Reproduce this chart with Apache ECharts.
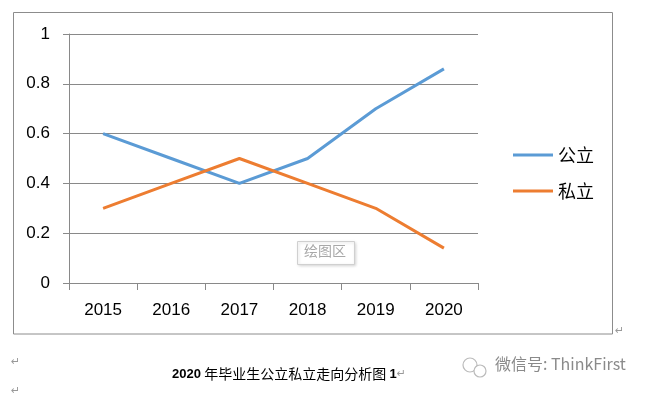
<!DOCTYPE html>
<html>
<head>
<meta charset="utf-8">
<script src="https://cdn.jsdelivr.net/npm/echarts@6/dist/echarts.min.js"></script>
<style>
  html, body { margin: 0; padding: 0; background: #fff; }
  #chart { width: 646px; height: 396px; }
</style>
</head>
<body>
<div id="chart"></div>
<script>
// 数据
const years = ['2015', '2016', '2017', '2018', '2019', '2020']
const publicVals = [0.6, 0.5, 0.4, 0.5, 0.7, 0.86]
const privateVals = [0.3, 0.4, 0.5, 0.4, 0.3, 0.14]
const seriesNames = ['公立', '私立']

const chart = echarts.init(document.getElementById('chart'))

const axisGray = '#898989'
const cjk = '"Noto Sans CJK SC", sans-serif'
const latin = '"Liberation Sans", "DejaVu Sans", sans-serif'

const option = {
  backgroundColor: '#fff',
  animation: false,
  grid: { left: 69, top: 34, width: 409, height: 249 },
  legend: {
    orient: 'vertical',
    left: 508,
    top: 141,
    icon: 'rect',
    itemWidth: 40,
    itemHeight: 3,
    itemGap: 18,
    data: seriesNames,
    textStyle: { fontFamily: cjk, fontSize: 18, color: '#000' }
  },
  xAxis: {
    type: 'category',
    data: years,
    boundaryGap: true,
    axisLine: { lineStyle: { color: axisGray, width: 1 } },
    axisTick: { show: true, length: 7, lineStyle: { color: axisGray } },
    axisLabel: { color: '#000', fontFamily: latin, fontSize: 17, margin: 19 }
  },
  yAxis: {
    type: 'value',
    min: 0,
    max: 1,
    interval: 0.2,
    axisLine: { show: true, lineStyle: { color: axisGray, width: 1 } },
    axisTick: { show: true, length: 6, lineStyle: { color: axisGray } },
    axisLabel: { color: '#000', fontFamily: latin, fontSize: 17, margin: 19 },
    splitLine: { lineStyle: { color: axisGray, width: 1 } }
  },
  series: [
    {
      name: seriesNames[0],
      type: 'line',
      data: publicVals,
      symbol: 'none',
      lineStyle: { color: '#5B9BD5', width: 3 },
      itemStyle: { color: '#5B9BD5' }
    },
    {
      name: seriesNames[1],
      type: 'line',
      data: privateVals,
      symbol: 'none',
      lineStyle: { color: '#ED7D31', width: 3 },
      itemStyle: { color: '#ED7D31' }
    }
  ],
  graphic: [
    // 图表外框
    {
      type: 'rect',
      shape: { x: 13.5, y: 12.5, width: 599, height: 321.5 },
      style: { fill: 'none', stroke: '#8c8c8c', lineWidth: 1 },
      silent: true
    },
    // 绘图区 提示
    {
      type: 'rect',
      shape: { x: 297.5, y: 241.5, width: 57, height: 23 },
      style: { fill: '#fff', stroke: '#d0d0d0', lineWidth: 1, shadowBlur: 3, shadowColor: 'rgba(0,0,0,0.15)', shadowOffsetX: 1, shadowOffsetY: 1 },
      z: 10
    },
    {
      type: 'text',
      left: 304,
      top: 244,
      style: { text: '绘图区', font: '14px ' + cjk, fill: '#a8a8a8' },
      z: 11
    },
    // 段落标记
    {
      type: 'text', left: 615, top: 326,
      style: { text: '↵', font: '11px "DejaVu Sans"', fill: '#999' }
    },
    {
      type: 'text', left: 11, top: 357,
      style: { text: '↵', font: '11px "DejaVu Sans"', fill: '#999' }
    },
    {
      type: 'text', left: 11, top: 386,
      style: { text: '↵', font: '11px "DejaVu Sans"', fill: '#999' }
    },
    // 标题
    {
      type: 'text',
      left: 172,
      top: 367,
      style: {
        text: '{b|2020} {c|年毕业生公立私立走向分析图} {b|1}{r|↵}',
        rich: {
          b: { font: 'bold 13px ' + latin, fill: '#000' },
          c: { font: '14px ' + cjk, fill: '#000' },
          r: { font: '11px "DejaVu Sans"', fill: '#999' }
        }
      }
    },
    // 水印
    {
      type: 'circle',
      shape: { cx: 470, cy: 365, r: 7 },
      style: { fill: 'none', stroke: '#bbb', lineWidth: 1.2 }
    },
    {
      type: 'circle',
      shape: { cx: 480, cy: 371, r: 6 },
      style: { fill: '#fff', stroke: '#bbb', lineWidth: 1.2 }
    },
    {
      type: 'text',
      left: 495,
      top: 356,
      style: { text: '微信号: ThinkFirst', font: '16px ' + cjk, fill: '#8a8a8a' }
    }
  ]
}

chart.setOption(option)
</script>
</body>
</html>
